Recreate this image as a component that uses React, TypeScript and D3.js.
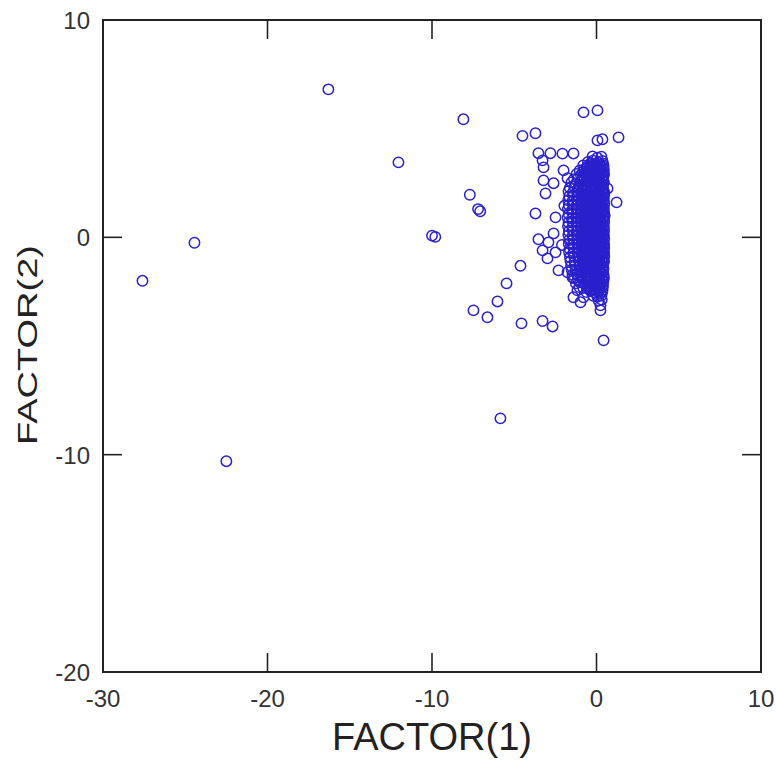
import React from "react";
import * as d3 from "d3";

// factor scores
const xTicks = [-30, -20, -10, 0, 10];
const yTicks = [10, 0, -10, -20];
const xLabel = "FACTOR(1)";
const yLabel = "FACTOR(2)";

// isolated cases far from the main cloud
const outliers: [number, number][] = [
  [-27.6, -2.0], [-24.44, -0.25], [-22.5, -10.3], [-16.3, 6.81], [-12.04, 3.45],
  [-10.0, 0.08], [-9.8, 0.02], [-8.09, 5.43], [-7.7, 1.96], [-7.2, 1.3], [-7.07, 1.2],
  [-7.48, -3.36], [-6.63, -3.68], [-6.02, -2.95], [-5.47, -2.12], [-4.62, -1.31],
  [-4.56, -3.96], [-5.84, -8.33], [-3.28, -3.85], [-2.67, -4.1], [0.43, -4.74],
];

// loose points around the edge of the cloud
const fringe: [number, number][] = [
  [-4.5, 4.67], [-3.71, 4.79], [-0.79, 5.75], [0.06, 5.84], [0.06, 4.46], [0.36, 4.51],
  [1.34, 4.6], [-3.53, 3.87], [-2.8, 3.87], [-2.07, 3.85], [-1.4, 3.86], [-3.28, 3.54],
  [-3.22, 3.22], [-2.0, 3.08], [-3.22, 2.62], [-2.61, 2.49], [-1.76, 2.72], [-3.1, 2.02],
  [-3.71, 1.1], [-2.49, 0.92], [-3.53, -0.09], [-2.61, 0.18], [-3.28, -0.6], [-2.92, -0.23],
  [-2.98, -0.97], [-2.49, -0.69], [-2.31, -1.52], [-1.76, -1.61], [-1.46, -1.84],
  [-1.16, -2.44], [-1.4, -2.76], [-0.79, -2.76], [-0.97, -2.99], [0.24, -3.13], [0.24, -3.36],
  [0.67, 2.25], [1.22, 1.61], [0.5, 1.0], [-1.95, 1.45], [-2.1, -0.35],
];

// the dense cloud near the origin
const cloud: [number, number][] = [
  [-0.24, 3.72], [0.05, 3.66], [0.3, 3.71],
  [-0.52, 3.47], [-0.22, 3.53], [0.08, 3.45], [0.36, 3.52],
  [-0.81, 3.31], [-0.56, 3.26], [-0.29, 3.34], [-0.04, 3.28], [0.21, 3.32], [0.43, 3.27],
  [-1.02, 3.08], [-0.74, 3.13], [-0.49, 3.06], [-0.23, 3.11], [0.02, 3.07], [0.26, 3.12], [0.45, 3.09],
  [-1.21, 2.92], [-0.95, 2.87], [-0.69, 2.93], [-0.44, 2.88], [-0.18, 2.91], [0.06, 2.86], [0.29, 2.93], [0.46, 2.89],
  [-1.37, 2.68], [-1.1, 2.73], [-0.84, 2.67], [-0.6, 2.72], [-0.34, 2.69], [-0.09, 2.74], [0.16, 2.66], [0.39, 2.71],
  [-1.52, 2.53], [-1.26, 2.47], [-1.0, 2.52], [-0.76, 2.46], [-0.51, 2.51], [-0.26, 2.48], [0.0, 2.54], [0.24, 2.47], [0.45, 2.52],
  [-1.62, 2.28], [-1.35, 2.33], [-1.09, 2.27], [-0.86, 2.32], [-0.61, 2.26], [-0.36, 2.31], [-0.11, 2.29], [0.14, 2.34], [0.38, 2.27],
  [-1.7, 2.12], [-1.44, 2.07], [-1.19, 2.11], [-0.94, 2.06], [-0.69, 2.13], [-0.43, 2.08], [-0.19, 2.12], [0.06, 2.07], [0.3, 2.11], [0.47, 2.08],
  [-1.66, 1.88], [-1.41, 1.93], [-1.15, 1.87], [-0.9, 1.92], [-0.65, 1.86], [-0.4, 1.91], [-0.15, 1.89], [0.1, 1.94], [0.34, 1.87], [0.46, 1.92],
  [-1.72, 1.71], [-1.46, 1.67], [-1.2, 1.72], [-0.95, 1.66], [-0.7, 1.73], [-0.45, 1.68], [-0.2, 1.71], [0.04, 1.66], [0.28, 1.72], [0.45, 1.69],
  [-1.68, 1.48], [-1.43, 1.53], [-1.17, 1.47], [-0.92, 1.52], [-0.67, 1.46], [-0.42, 1.51], [-0.17, 1.49], [0.08, 1.54], [0.32, 1.47], [0.47, 1.52],
  [-1.74, 1.31], [-1.48, 1.27], [-1.22, 1.32], [-0.97, 1.26], [-0.72, 1.33], [-0.47, 1.28], [-0.22, 1.31], [0.03, 1.26], [0.27, 1.32], [0.45, 1.29],
  [-1.69, 1.08], [-1.44, 1.13], [-1.18, 1.07], [-0.93, 1.12], [-0.68, 1.06], [-0.43, 1.11], [-0.18, 1.09], [0.07, 1.14], [0.31, 1.07], [0.46, 1.12],
  [-1.75, 0.91], [-1.49, 0.87], [-1.23, 0.92], [-0.98, 0.86], [-0.73, 0.93], [-0.48, 0.88], [-0.23, 0.91], [0.02, 0.86], [0.26, 0.92], [0.45, 0.89],
  [-1.7, 0.68], [-1.45, 0.73], [-1.19, 0.67], [-0.94, 0.72], [-0.69, 0.66], [-0.44, 0.71], [-0.19, 0.69], [0.06, 0.74], [0.3, 0.67], [0.47, 0.72],
  [-1.73, 0.51], [-1.47, 0.47], [-1.21, 0.52], [-0.96, 0.46], [-0.71, 0.53], [-0.46, 0.48], [-0.21, 0.51], [0.04, 0.46], [0.28, 0.52], [0.45, 0.49],
  [-1.68, 0.28], [-1.43, 0.33], [-1.17, 0.27], [-0.92, 0.32], [-0.67, 0.26], [-0.42, 0.31], [-0.17, 0.29], [0.08, 0.34], [0.32, 0.27], [0.46, 0.32],
  [-1.71, 0.11], [-1.45, 0.07], [-1.2, 0.12], [-0.95, 0.06], [-0.7, 0.13], [-0.45, 0.08], [-0.2, 0.11], [0.05, 0.06], [0.29, 0.12], [0.45, 0.09],
  [-1.66, -0.12], [-1.41, -0.07], [-1.16, -0.13], [-0.91, -0.08], [-0.66, -0.14], [-0.41, -0.09], [-0.16, -0.11], [0.09, -0.06], [0.33, -0.13], [0.47, -0.08],
  [-1.69, -0.29], [-1.44, -0.33], [-1.18, -0.28], [-0.93, -0.34], [-0.68, -0.27], [-0.43, -0.32], [-0.18, -0.29], [0.07, -0.34], [0.31, -0.28], [0.46, -0.31],
  [-1.64, -0.52], [-1.39, -0.47], [-1.14, -0.53], [-0.89, -0.48], [-0.64, -0.54], [-0.39, -0.49], [-0.14, -0.51], [0.11, -0.46], [0.34, -0.53], [0.47, -0.48],
  [-1.67, -0.69], [-1.42, -0.73], [-1.16, -0.68], [-0.91, -0.74], [-0.66, -0.67], [-0.41, -0.72], [-0.16, -0.69], [0.09, -0.74], [0.32, -0.68], [0.46, -0.71],
  [-1.61, -0.92], [-1.36, -0.87], [-1.11, -0.93], [-0.86, -0.88], [-0.61, -0.94], [-0.36, -0.89], [-0.11, -0.91], [0.13, -0.86], [0.35, -0.93], [0.47, -0.88],
  [-1.58, -1.09], [-1.33, -1.13], [-1.08, -1.08], [-0.83, -1.14], [-0.58, -1.07], [-0.33, -1.12], [-0.08, -1.09], [0.16, -1.14], [0.37, -1.08], [0.46, -1.11],
  [-1.55, -1.32], [-1.3, -1.27], [-1.05, -1.33], [-0.8, -1.28], [-0.55, -1.34], [-0.3, -1.29], [-0.05, -1.31], [0.18, -1.26], [0.38, -1.33],
  [-1.51, -1.49], [-1.26, -1.53], [-1.01, -1.48], [-0.76, -1.54], [-0.51, -1.47], [-0.26, -1.52], [-0.01, -1.49], [0.22, -1.54], [0.41, -1.48],
  [-1.46, -1.72], [-1.21, -1.67], [-0.96, -1.73], [-0.71, -1.68], [-0.46, -1.74], [-0.21, -1.69], [0.04, -1.71], [0.26, -1.66], [0.43, -1.73],
  [-1.38, -1.89], [-1.13, -1.93], [-0.88, -1.88], [-0.63, -1.94], [-0.38, -1.87], [-0.13, -1.92], [0.11, -1.89], [0.33, -1.94], [0.45, -1.88],
  [-1.25, -2.12], [-1.0, -2.07], [-0.75, -2.13], [-0.5, -2.08], [-0.25, -2.14], [0.0, -2.09], [0.22, -2.11], [0.41, -2.06],
  [-1.05, -2.29], [-0.8, -2.33], [-0.55, -2.28], [-0.3, -2.34], [-0.06, -2.27], [0.17, -2.32], [0.38, -2.29],
  [-0.62, -2.52], [-0.37, -2.47], [-0.12, -2.53], [0.12, -2.48], [0.35, -2.51],
  [-0.2, -2.69], [0.06, -2.73], [0.3, -2.68],
  [0.13, -2.91], [0.32, -2.87],
  // second, offset layer in the core
  [-0.35, 3.41], [-0.08, 3.38], [0.17, 3.42], [0.4, 3.39],
  [-0.6, 3.19], [-0.33, 3.22], [-0.09, 3.18], [0.16, 3.21], [0.39, 3.2],
  [-0.82, 3.01], [-0.57, 2.98], [-0.31, 3.02], [-0.06, 2.99], [0.19, 3.03], [0.41, 2.98],
  [-0.83, 2.79], [-0.58, 2.82], [-0.32, 2.78], [-0.07, 2.81], [0.18, 2.8], [0.4, 2.83],
  [-0.81, 2.61], [-0.56, 2.58], [-0.3, 2.62], [-0.05, 2.59], [0.2, 2.61], [0.42, 2.58],
  [-0.84, 2.39], [-0.59, 2.42], [-0.33, 2.38], [-0.08, 2.41], [0.17, 2.4], [0.4, 2.43],
  [-0.82, 2.21], [-0.57, 2.18], [-0.31, 2.22], [-0.06, 2.19], [0.19, 2.21], [0.41, 2.18],
  [-0.83, 1.99], [-0.58, 2.02], [-0.32, 1.98], [-0.07, 2.01], [0.18, 2.0], [0.4, 2.03],
  [-0.81, 1.81], [-0.56, 1.78], [-0.3, 1.82], [-0.05, 1.79], [0.2, 1.81], [0.42, 1.78],
  [-0.84, 1.59], [-0.59, 1.62], [-0.33, 1.58], [-0.08, 1.61], [0.17, 1.6], [0.4, 1.63],
  [-0.82, 1.41], [-0.57, 1.38], [-0.31, 1.42], [-0.06, 1.39], [0.19, 1.41], [0.41, 1.38],
  [-0.83, 1.19], [-0.58, 1.22], [-0.32, 1.18], [-0.07, 1.21], [0.18, 1.2], [0.4, 1.23],
  [-0.81, 1.01], [-0.56, 0.98], [-0.3, 1.02], [-0.05, 0.99], [0.2, 1.01], [0.42, 0.98],
  [-0.84, 0.79], [-0.59, 0.82], [-0.33, 0.78], [-0.08, 0.81], [0.17, 0.8], [0.4, 0.83],
  [-0.82, 0.61], [-0.57, 0.58], [-0.31, 0.62], [-0.06, 0.59], [0.19, 0.61], [0.41, 0.58],
  [-0.83, 0.39], [-0.58, 0.42], [-0.32, 0.38], [-0.07, 0.41], [0.18, 0.4], [0.4, 0.43],
  [-0.81, 0.21], [-0.56, 0.18], [-0.3, 0.22], [-0.05, 0.19], [0.2, 0.21], [0.42, 0.18],
  [-0.84, -0.01], [-0.59, 0.02], [-0.33, -0.02], [-0.08, 0.01], [0.17, 0.0], [0.4, 0.03],
  [-0.82, -0.19], [-0.57, -0.22], [-0.31, -0.18], [-0.06, -0.21], [0.19, -0.19], [0.41, -0.22],
  [-0.83, -0.41], [-0.58, -0.38], [-0.32, -0.42], [-0.07, -0.39], [0.18, -0.4], [0.4, -0.37],
  [-0.81, -0.59], [-0.56, -0.62], [-0.3, -0.58], [-0.05, -0.61], [0.2, -0.59], [0.42, -0.62],
  [-0.84, -0.81], [-0.59, -0.78], [-0.33, -0.82], [-0.08, -0.79], [0.17, -0.8], [0.4, -0.77],
  [-0.82, -0.99], [-0.57, -1.02], [-0.31, -0.98], [-0.06, -1.01], [0.19, -0.99], [0.41, -1.02],
  [-0.83, -1.21], [-0.58, -1.18], [-0.32, -1.22], [-0.07, -1.19], [0.18, -1.2], [0.4, -1.17],
  [-0.81, -1.39], [-0.56, -1.42], [-0.3, -1.38], [-0.05, -1.41], [0.2, -1.39], [0.42, -1.42],
  [-0.84, -1.61], [-0.59, -1.58], [-0.33, -1.62], [-0.08, -1.59], [0.17, -1.6], [0.4, -1.57],
  [-0.82, -1.79], [-0.57, -1.82], [-0.31, -1.78], [-0.06, -1.81], [0.19, -1.79], [0.41, -1.82],
  [-0.58, -1.98], [-0.32, -2.02], [-0.07, -1.99], [0.18, -2.0], [0.4, -1.97],
  [-0.56, -2.21], [-0.3, -2.18], [-0.05, -2.22], [0.2, -2.19], [0.39, -2.21],
  [-0.33, -2.39], [-0.08, -2.42], [0.17, -2.38], [0.37, -2.41],
  [0.0, -2.61], [0.25, -2.58],
];

const W = 776;
const H = 760;
const font = "'Liberation Sans', Arial, sans-serif";
const ink = "#222";
const dotColor = "#2a20cc";

export default function App() {
  const x = d3.scaleLinear().domain([-30, 10]).range([103, 761]);
  const y = d3.scaleLinear().domain([-20, 10]).range([672, 20]);
  const [x0, x1] = x.range();
  const [y0, y1] = y.range();
  const tick = 19;
  const points = [...outliers, ...fringe, ...cloud];

  return (
    <svg
      width={W}
      height={H}
      style={{ position: "absolute", left: 0, top: 0, background: "#fff" }}
    >
      {/* frame */}
      <rect x={x0} y={y1} width={x1 - x0} height={y0 - y1} fill="none" stroke={ink} strokeWidth={2} />

      {/* inward ticks on all four sides */}
      {xTicks.map((t) => (
        <g key={"xt" + t}>
          <line x1={x(t)} x2={x(t)} y1={y0} y2={y0 - tick} stroke={ink} strokeWidth={1.6} />
          <line x1={x(t)} x2={x(t)} y1={y1} y2={y1 + tick} stroke={ink} strokeWidth={1.6} />
          <text x={x(t)} y={707} textAnchor="middle" fontFamily={font} fontSize={24} fill="#333">
            {t}
          </text>
        </g>
      ))}
      {yTicks.map((t) => (
        <g key={"yt" + t}>
          <line x1={x0} x2={x0 + tick} y1={y(t)} y2={y(t)} stroke={ink} strokeWidth={1.6} />
          <line x1={x1} x2={x1 - tick} y1={y(t)} y2={y(t)} stroke={ink} strokeWidth={1.6} />
          <text x={90} y={y(t) + 9} textAnchor="end" fontFamily={font} fontSize={24} fill="#333">
            {t}
          </text>
        </g>
      ))}

      {/* points */}
      <g fill="none" stroke={dotColor} strokeWidth={1.5}>
        {points.map((d, i) => (
          <circle key={i} cx={x(d[0])} cy={y(d[1])} r={5.2} />
        ))}
      </g>

      {/* axis titles */}
      <text x={(x0 + x1) / 2} y={750} textAnchor="middle" fontFamily={font} fontSize={38} fill={ink}>
        {xLabel}
      </text>
      <text
        transform={`translate(37, ${(y0 + y1) / 2 - 1}) rotate(-90) scale(1, 0.72)`}
        textAnchor="middle"
        fontFamily={font}
        fontSize={38}
        fill={ink}
      >
        {yLabel}
      </text>
    </svg>
  );
}
